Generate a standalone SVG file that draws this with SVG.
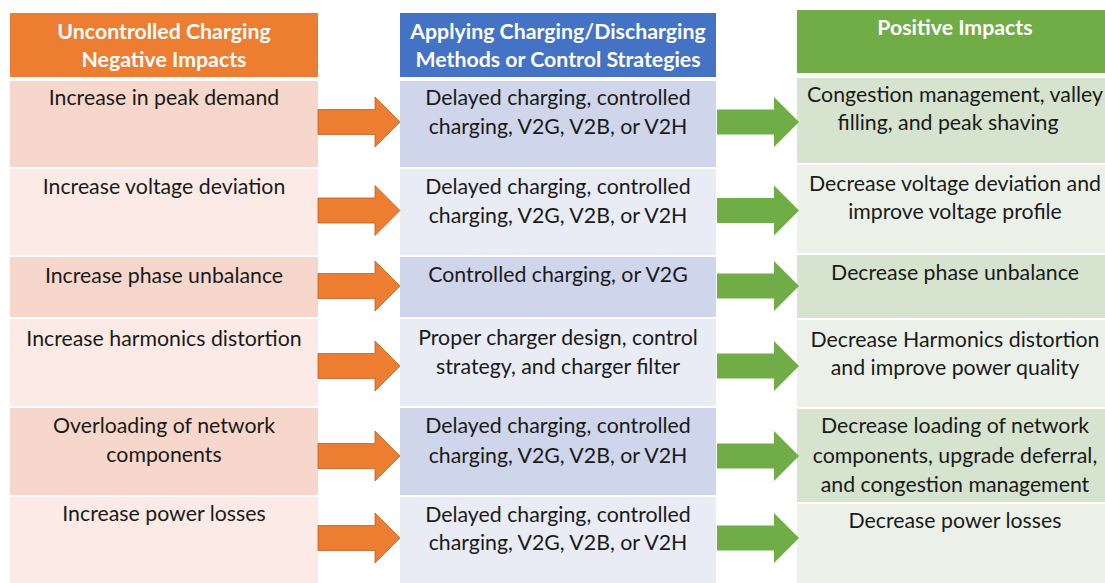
<svg xmlns="http://www.w3.org/2000/svg" width="1105" height="583" viewBox="0 0 1105 583">
<style>
text{font-family:Lato,"Liberation Sans",sans-serif;font-size:21.3px;fill:#1a1a1a;text-anchor:middle}
.h{font-weight:bold;fill:#ffffff}
.od{fill:#F7D6CB}.ol{fill:#FBEAE5}
.bd{fill:#CFD5EA}.bl{fill:#E9EBF5}
.gd{fill:#D5E3CF}.gl{fill:#EBF1E9}
.oa{fill:#ED7D31;stroke:#C0601F;stroke-width:0.8}
.ga{fill:#70AD47}
</style>
<defs>
<path id="arr" d="M0,-12.5 H57 V-25 L82,0 L57,25 V12.5 H0 Z"/>
</defs>
<rect width="1105" height="583" fill="#ffffff"/>
<g id="col-negative">
<g id="neg-header"><rect x="10" y="13" width="308" height="64" fill="#ED7D31"/><text class="h" x="164" y="39">Uncontrolled Charging</text><text class="h" x="164" y="67">Negative Impacts</text></g>
<g id="neg-1"><rect class="od" x="10" y="81" width="308" height="86"/><text x="164" y="105">Increase in peak demand</text></g>
<g id="neg-2"><rect class="ol" x="10" y="169" width="308" height="86"/><text x="164" y="194">Increase voltage deviation</text></g>
<g id="neg-3"><rect class="od" x="10" y="257" width="308" height="60"/><text x="164" y="283">Increase phase unbalance</text></g>
<g id="neg-4"><rect class="ol" x="10" y="319" width="308" height="87"/><text x="164" y="346">Increase harmonics distortion</text></g>
<g id="neg-5"><rect class="od" x="10" y="408" width="308" height="87"/><text x="164" y="433">Overloading of network</text><text x="164" y="462">components</text></g>
<g id="neg-6"><rect class="ol" x="10" y="497" width="308" height="86"/><text x="164" y="521">Increase power losses</text></g>
</g>
<g id="col-methods">
<g id="met-header"><rect x="400" y="13" width="316" height="64" fill="#4472C4"/><text class="h" x="558" y="39">Applying Charging/Discharging</text><text class="h" x="558" y="67">Methods or Control Strategies</text></g>
<g id="met-1"><rect class="bd" x="400" y="81" width="316" height="86"/><text x="558" y="105">Delayed charging, controlled</text><text x="558" y="134">charging, V2G, V2B, or V2H</text></g>
<g id="met-2"><rect class="bl" x="400" y="169" width="316" height="86"/><text x="558" y="194">Delayed charging, controlled</text><text x="558" y="223">charging, V2G, V2B, or V2H</text></g>
<g id="met-3"><rect class="bd" x="400" y="257" width="316" height="60"/><text x="558" y="282">Controlled charging, or V2G</text></g>
<g id="met-4"><rect class="bl" x="400" y="319" width="316" height="87"/><text x="558" y="345">Proper charger design, control</text><text x="558" y="374">strategy, and charger filter</text></g>
<g id="met-5"><rect class="bd" x="400" y="408" width="316" height="87"/><text x="558" y="433">Delayed charging, controlled</text><text x="558" y="463">charging, V2G, V2B, or V2H</text></g>
<g id="met-6"><rect class="bl" x="400" y="497" width="316" height="86"/><text x="558" y="522">Delayed charging, controlled</text><text x="558" y="550">charging, V2G, V2B, or V2H</text></g>
</g>
<g id="col-positive">
<g id="pos-header"><rect x="797" y="10" width="316" height="63" fill="#70AD47"/><text class="h" x="955" y="35">Positive Impacts</text></g>
<g id="pos-1"><rect class="gd" x="797" y="78" width="316" height="85"/><text x="955" y="102">Congestion management, valley</text><text x="948" y="130">filling, and peak shaving</text></g>
<g id="pos-2"><rect class="gl" x="797" y="165" width="316" height="88"/><text x="955" y="191">Decrease voltage deviation and</text><text x="955" y="219">improve voltage profile</text></g>
<g id="pos-3"><rect class="gd" x="797" y="255" width="316" height="63"/><text x="955" y="280">Decrease phase unbalance</text></g>
<g id="pos-4"><rect class="gl" x="797" y="320" width="316" height="87"/><text x="955" y="347">Decrease Harmonics distortion</text><text x="955" y="375">and improve power quality</text></g>
<g id="pos-5"><rect class="gd" x="797" y="409" width="316" height="93"/><text x="955" y="433">Decrease loading of network</text><text x="955" y="463">components, upgrade deferral,</text><text x="955" y="492">and congestion management</text></g>
<g id="pos-6"><rect class="gl" x="797" y="504" width="316" height="79"/><text x="955" y="528">Decrease power losses</text></g>
</g>
<g id="connectors">
<use href="#arr" class="oa" transform="translate(318,122)"/>
<use href="#arr" class="oa" transform="translate(318,210.5)"/>
<use href="#arr" class="oa" transform="translate(318,286)"/>
<use href="#arr" class="oa" transform="translate(318,366)"/>
<use href="#arr" class="oa" transform="translate(318,456)"/>
<use href="#arr" class="oa" transform="translate(318,538)"/>
<use href="#arr" class="ga" transform="translate(717,122)"/>
<use href="#arr" class="ga" transform="translate(717,210.5)"/>
<use href="#arr" class="ga" transform="translate(717,286)"/>
<use href="#arr" class="ga" transform="translate(717,366)"/>
<use href="#arr" class="ga" transform="translate(717,456)"/>
<use href="#arr" class="ga" transform="translate(717,538)"/>
</g>
</svg>
